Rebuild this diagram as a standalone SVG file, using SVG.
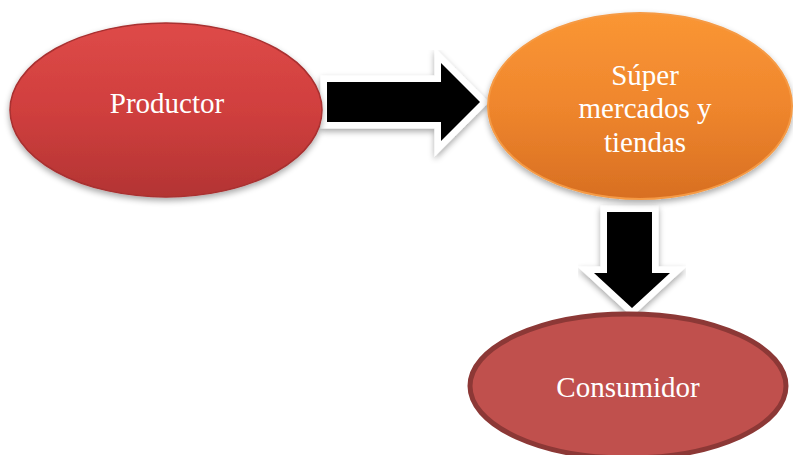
<svg xmlns="http://www.w3.org/2000/svg" width="793" height="455" viewBox="0 0 793 455">
  <style>
    .label { font-family: "Liberation Serif", "Times New Roman", serif; font-size: 29px; fill: #ffffff; text-anchor: middle; }
    .arrow { fill: #000000; stroke: #ffffff; stroke-width: 13; stroke-linejoin: miter; paint-order: stroke; }
  </style>
  <defs>
    <linearGradient id="redGrad" x1="0" y1="0" x2="0" y2="1">
      <stop offset="0" stop-color="#de4a48"/>
      <stop offset="0.5" stop-color="#d03f3e"/>
      <stop offset="1" stop-color="#b33433"/>
    </linearGradient>
    <linearGradient id="orangeGrad" x1="0" y1="0" x2="0" y2="1">
      <stop offset="0" stop-color="#fa9634"/>
      <stop offset="0.5" stop-color="#ef862d"/>
      <stop offset="1" stop-color="#d86f22"/>
    </linearGradient>
    <filter id="shadow" x="-20%" y="-20%" width="140%" height="150%">
      <feGaussianBlur in="SourceAlpha" stdDeviation="3"/>
      <feOffset dx="0" dy="3" result="blur"/>
      <feComponentTransfer><feFuncA type="linear" slope="0.35"/></feComponentTransfer>
      <feMerge><feMergeNode/><feMergeNode in="SourceGraphic"/></feMerge>
    </filter>
  </defs>

  <!-- connectors: block arrows with a white rim -->
  <g id="connectors">
    <path class="arrow" filter="url(#shadow)" d="M327,82 L441,82 L441,63 L480,102 L441,141 L441,122 L327,122 Z"/>
    <path class="arrow" filter="url(#shadow)" d="M607,212 L652,212 L652,273 L670,273 L632,308 L594,273 L607,273 Z"/>
  </g>

  <g id="productor">
    <ellipse cx="166" cy="110" rx="156" ry="87" fill="url(#redGrad)" stroke="#a83030" stroke-width="1.5" filter="url(#shadow)"/>
    <text class="label" x="167" y="113">Productor</text>
  </g>

  <g id="supermercados">
    <ellipse cx="640" cy="106" rx="152" ry="93" fill="url(#orangeGrad)" stroke="#f59a45" stroke-width="2" filter="url(#shadow)"/>
    <text class="label" x="645" y="85">Súper</text>
    <text class="label" x="645" y="118">mercados y</text>
    <text class="label" x="645" y="152">tiendas</text>
  </g>

  <g id="consumidor">
    <ellipse cx="628" cy="386" rx="158" ry="72" fill="#c0504d" stroke="#8c3836" stroke-width="5"/>
    <text class="label" x="628" y="397">Consumidor</text>
  </g>
</svg>
